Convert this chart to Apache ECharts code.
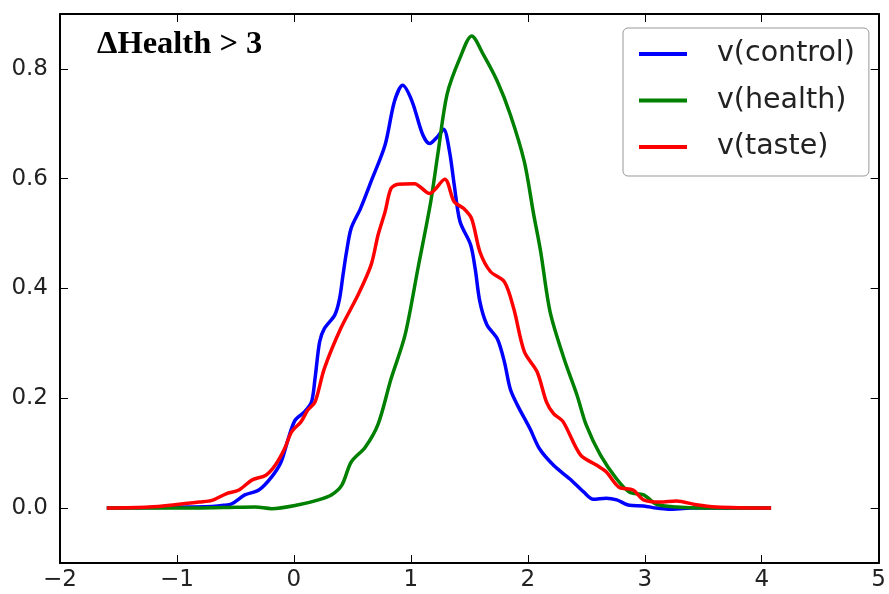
<!DOCTYPE html>
<html>
<head>
<meta charset="utf-8">
<title>ΔHealth > 3</title>
<script src="https://cdn.jsdelivr.net/npm/echarts@6/dist/echarts.min.js"></script>
<style>
  html, body { margin: 0; padding: 0; background: #ffffff; }
  #chart { width: 889px; height: 594px; }
</style>
</head>
<body>
<div id="chart"></div>
<script>
// Kernel density curves of three value estimates
var controlX = [-1.6, -1.2, -0.9, -0.7, -0.6, -0.53, -0.42, -0.30, -0.19, -0.11, -0.05, 0.01, 0.09, 0.15, 0.18, 0.22, 0.26, 0.35, 0.39, 0.42, 0.45, 0.49, 0.57, 0.66, 0.78, 0.86, 0.93, 1.01, 1.10, 1.16, 1.23, 1.28, 1.33, 1.37, 1.42, 1.51, 1.55, 1.59, 1.65, 1.74, 1.80, 1.85, 1.91, 2.02, 2.10, 2.22, 2.36, 2.48, 2.56, 2.67, 2.76, 2.87, 2.99, 3.10, 3.20, 3.40, 3.70, 4.08];
var controlY = [0.000, 0.001, 0.002, 0.003, 0.005, 0.008, 0.024, 0.033, 0.057, 0.084, 0.125, 0.160, 0.175, 0.193, 0.235, 0.303, 0.327, 0.352, 0.381, 0.425, 0.467, 0.510, 0.546, 0.595, 0.662, 0.741, 0.770, 0.741, 0.681, 0.664, 0.677, 0.690, 0.650, 0.590, 0.522, 0.480, 0.436, 0.376, 0.334, 0.308, 0.266, 0.217, 0.188, 0.144, 0.108, 0.078, 0.053, 0.029, 0.016, 0.018, 0.015, 0.005, 0.004, 0.000, -0.002, 0.000, 0.000, 0.000];

var healthX = [-1.6, -1.0, -0.6, -0.33, -0.19, 0.04, 0.21, 0.32, 0.41, 0.49, 0.61, 0.72, 0.83, 0.95, 1.06, 1.17, 1.23, 1.31, 1.42, 1.52, 1.62, 1.74, 1.85, 1.97, 2.05, 2.11, 2.19, 2.31, 2.42, 2.50, 2.62, 2.76, 2.87, 2.99, 3.10, 3.27, 3.50, 4.08];
var healthY = [0.000, 0.000, 0.001, 0.002, -0.001, 0.006, 0.015, 0.024, 0.042, 0.084, 0.111, 0.153, 0.235, 0.315, 0.436, 0.558, 0.644, 0.754, 0.820, 0.860, 0.826, 0.777, 0.717, 0.631, 0.535, 0.467, 0.358, 0.272, 0.206, 0.151, 0.097, 0.053, 0.029, 0.024, 0.007, 0.002, 0.000, 0.000];

var tasteX = [-1.6, -1.24, -0.98, -0.81, -0.70, -0.58, -0.47, -0.36, -0.24, -0.16, -0.08, -0.02, 0.06, 0.12, 0.18, 0.26, 0.40, 0.55, 0.66, 0.72, 0.78, 0.83, 0.89, 1.03, 1.16, 1.29, 1.37, 1.45, 1.52, 1.59, 1.68, 1.80, 1.88, 1.97, 2.08, 2.16, 2.22, 2.30, 2.45, 2.59, 2.67, 2.78, 2.90, 2.99, 3.13, 3.27, 3.44, 3.61, 4.08];
var tasteY = [0.000, 0.002, 0.007, 0.011, 0.014, 0.026, 0.033, 0.051, 0.060, 0.078, 0.108, 0.139, 0.157, 0.179, 0.193, 0.254, 0.327, 0.389, 0.443, 0.498, 0.540, 0.582, 0.590, 0.591, 0.573, 0.599, 0.558, 0.546, 0.527, 0.467, 0.431, 0.412, 0.363, 0.285, 0.248, 0.193, 0.172, 0.158, 0.097, 0.078, 0.066, 0.038, 0.033, 0.015, 0.011, 0.013, 0.006, 0.002, 0.000];

var seriesNames = ['v(control)', 'v(health)', 'v(taste)'];
var seriesColors = ['#0000ff', '#008000', '#ff0000'];
var yTickValues = [0.0, 0.2, 0.4, 0.6, 0.8];
var titleText = 'ΔHealth > 3';

function pairs(xs, ys) {
  return xs.map(function (x, i) { return [x, ys[i]]; });
}

var curves = [pairs(controlX, controlY), pairs(healthX, healthY), pairs(tasteX, tasteY)];

var tickFont = { fontFamily: 'DejaVu Sans', fontSize: 23, color: '#222222' };
var frameLine = { show: true, onZero: false, lineStyle: { color: '#000000', width: 2 } };
var innerTick = { show: true, inside: true, length: 8, lineStyle: { color: '#000000', width: 1 } };

var chart = echarts.init(document.getElementById('chart'), null, { renderer: 'canvas' });

chart.setOption({
  animation: false,
  backgroundColor: '#ffffff',
  grid: { left: 60, right: 5, top: 14, bottom: 31, containLabel: false },
  title: {
    text: titleText,
    left: 92,
    top: 23,
    textStyle: { fontFamily: 'Liberation Serif', fontWeight: 'bold', fontSize: 32.5, color: '#000000' }
  },
  legend: {
    orient: 'vertical',
    left: 623,
    top: 28,
    padding: [11, 14, 14, 16],
    itemGap: 16.5,
    itemWidth: 48,
    itemHeight: 4,
    icon: 'rect',
    backgroundColor: '#ffffff',
    borderColor: '#999999',
    borderWidth: 1,
    borderRadius: 5,
    textStyle: { fontFamily: 'DejaVu Sans', fontSize: 28.5, color: '#222222', lineHeight: 30, padding: [0, 0, 0, 25] },
    data: seriesNames
  },
  xAxis: [
    {
      type: 'value', min: -2, max: 5, interval: 1, position: 'bottom',
      axisLine: frameLine, axisTick: innerTick, splitLine: { show: false },
      axisLabel: Object.assign({ margin: 6, formatter: function (v) { return String(v).replace('-', '\u2212'); } }, tickFont)
    },
    {
      type: 'value', min: -2, max: 5, interval: 1, position: 'top',
      axisLine: frameLine, axisTick: innerTick, splitLine: { show: false },
      axisLabel: { show: false }
    }
  ],
  yAxis: [
    {
      type: 'value', min: -0.1, max: 0.9, position: 'left',
      axisLine: frameLine, splitLine: { show: false },
      axisTick: Object.assign({ customValues: yTickValues }, innerTick),
      axisLabel: Object.assign({ margin: 12, customValues: yTickValues, formatter: function (v) { return v.toFixed(1); } }, tickFont)
    },
    {
      type: 'value', min: -0.1, max: 0.9, position: 'right',
      axisLine: frameLine, splitLine: { show: false },
      axisTick: Object.assign({ customValues: yTickValues }, innerTick),
      axisLabel: { show: false }
    }
  ],
  series: seriesNames.map(function (name, i) {
    return {
      name: name,
      type: 'line',
      xAxisIndex: 0,
      yAxisIndex: 0,
      data: curves[i],
      smooth: 0.3,
      showSymbol: false,
      symbol: 'none',
      color: seriesColors[i],
      lineStyle: { color: seriesColors[i], width: 3.5 },
      z: 2 + i
    };
  })
});
</script>
</body>
</html>
